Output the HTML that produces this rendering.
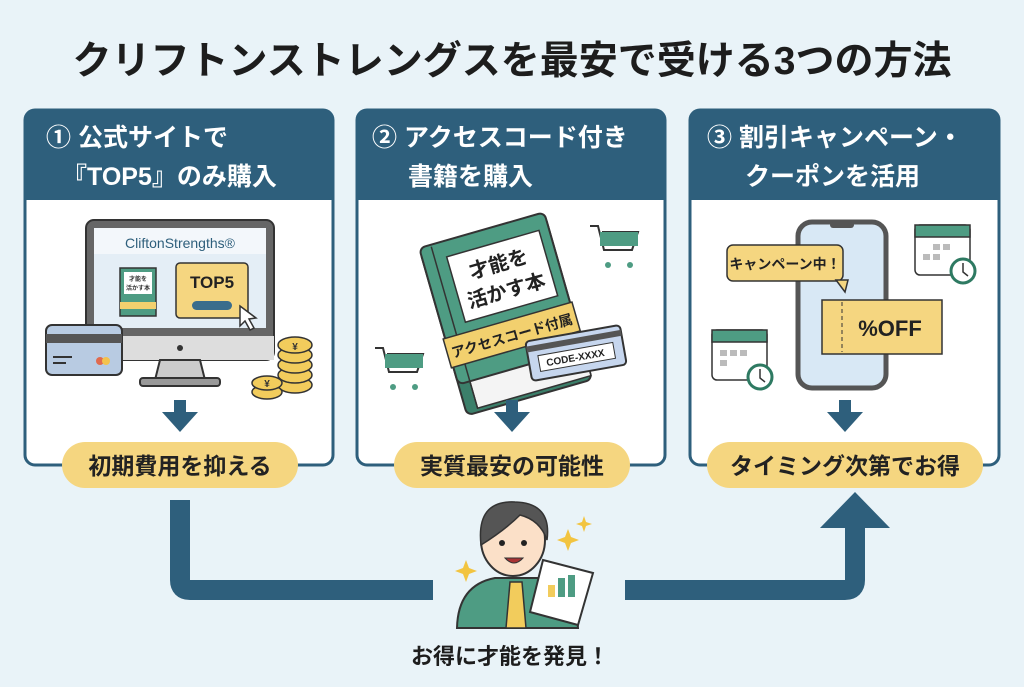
<!DOCTYPE html>
<html><head><meta charset="utf-8"><style>
html,body{margin:0;padding:0;background:#e9f3f8;}
svg{display:block}
text{font-family:"Liberation Sans","Noto Sans CJK JP",sans-serif;font-weight:bold}
</style></head><body>
<svg width="1024" height="687" viewBox="0 0 1024 687" xmlns="http://www.w3.org/2000/svg">
<rect width="1024" height="687" fill="#e9f3f8"/>
<text x="512" y="74" text-anchor="middle" font-size="39" fill="#1d1d1d">クリフトンストレングスを最安で受ける3つの方法</text>

<!-- connector -->
<path d="M180 500 V580 Q180 590 190 590 H433" fill="none" stroke="#2e5f7c" stroke-width="20"/>
<path d="M625 590 H845 Q855 590 855 580 V525" fill="none" stroke="#2e5f7c" stroke-width="20"/>
<polygon points="820,528 890,528 855,492" fill="#2e5f7c"/>

<!-- panels -->
<g>
<rect x="25" y="110" width="308" height="355" rx="10" fill="#fff" stroke="#2e5f7c" stroke-width="3"/>
<path d="M25 120 Q25 110 35 110 H323 Q333 110 333 120 V200 H25Z" fill="#2e5f7c"/>
<text x="46" y="146" font-size="25" fill="#fff">① 公式サイトで</text>
<text x="62" y="185" font-size="25" fill="#fff">『TOP5』のみ購入</text>
<rect x="357" y="110" width="308" height="355" rx="10" fill="#fff" stroke="#2e5f7c" stroke-width="3"/>
<path d="M357 120 Q357 110 367 110 H655 Q665 110 665 120 V200 H357Z" fill="#2e5f7c"/>
<text x="372" y="146" font-size="25" fill="#fff">② アクセスコード付き</text>
<text x="408" y="185" font-size="25" fill="#fff">書籍を購入</text>
<rect x="690" y="110" width="309" height="355" rx="10" fill="#fff" stroke="#2e5f7c" stroke-width="3"/>
<path d="M690 120 Q690 110 700 110 H989 Q999 110 999 120 V200 H690Z" fill="#2e5f7c"/>
<text x="707" y="146" font-size="25" fill="#fff">③ 割引キャンペーン・</text>
<text x="745" y="185" font-size="25" fill="#fff">クーポンを活用</text>
</g>

<!-- panel1 illustration -->
<rect x="86" y="220" width="188" height="140" rx="8" fill="#666" stroke="#333" stroke-width="2"/>
<rect x="94" y="228" width="172" height="100" fill="#e4eef6"/>
<rect x="94" y="228" width="172" height="26" fill="#f3f7fb"/>
<text x="180" y="248" text-anchor="middle" font-size="14" fill="#2e5f7c" style="font-weight:normal">CliftonStrengths®</text>
<rect x="86" y="336" width="188" height="24" fill="#ddd"/>
<circle cx="180" cy="348" r="3" fill="#333"/>
<polygon points="160,360 200,360 205,380 155,380" fill="#ccc" stroke="#333" stroke-width="2"/>
<rect x="140" y="378" width="80" height="8" rx="3" fill="#999" stroke="#333" stroke-width="2"/>
<rect x="120" y="268" width="36" height="48" fill="#4e9c83" stroke="#333" stroke-width="1.5"/>
<rect x="120" y="302" width="36" height="7" fill="#f2d06e"/>
<rect x="124" y="272" width="28" height="22" fill="#fff"/>
<text x="138" y="281" text-anchor="middle" font-size="6" fill="#333">才能を</text>
<text x="138" y="290" text-anchor="middle" font-size="6" fill="#333">活かす本</text>
<rect x="176" y="263" width="72" height="55" rx="4" fill="#f5d680" stroke="#333" stroke-width="1.5"/>
<text x="212" y="288" text-anchor="middle" font-size="17" fill="#222">TOP5</text>
<rect x="192" y="301" width="40" height="9" rx="4.5" fill="#3a6d8c"/>
<polygon points="240,306 240,326 245,321 250,330 254,328 249,319 256,318" fill="#fff" stroke="#333" stroke-width="1.5"/>
<rect x="46" y="325" width="76" height="50" rx="6" fill="#b8cbe2" stroke="#333" stroke-width="2"/>
<rect x="46" y="334" width="76" height="9" fill="#555"/>
<circle cx="100" cy="361" r="4" fill="#e06a4e"/><circle cx="106" cy="361" r="4" fill="#f3c24d"/>
<line x1="53" y1="357" x2="72" y2="357" stroke="#333" stroke-width="2"/><line x1="53" y1="363" x2="66" y2="363" stroke="#333" stroke-width="2"/>
<g fill="#f2cc5c" stroke="#333" stroke-width="1.5">
<ellipse cx="295" cy="385" rx="17" ry="8"/><ellipse cx="295" cy="375" rx="17" ry="8"/><ellipse cx="295" cy="365" rx="17" ry="8"/><ellipse cx="295" cy="355" rx="17" ry="8"/><ellipse cx="295" cy="345" rx="17" ry="8"/>
<ellipse cx="267" cy="392" rx="15" ry="7"/><ellipse cx="267" cy="383" rx="15" ry="7"/>
</g>
<text x="295" y="350" text-anchor="middle" font-size="10" fill="#333">¥</text>
<text x="267" y="387" text-anchor="middle" font-size="10" fill="#333">¥</text>

<!-- panel2 book -->
<g transform="rotate(-16 500 305)">
<rect x="438" y="232" width="130" height="170" rx="6" fill="#3b7f6a" stroke="#333" stroke-width="2"/>
<rect x="450" y="368" width="118" height="30" fill="#f4f4f4" stroke="#333" stroke-width="1.5"/>
<rect x="438" y="228" width="130" height="142" rx="6" fill="#4e9c83" stroke="#333" stroke-width="2"/>
<line x1="450" y1="230" x2="450" y2="398" stroke="#333" stroke-width="1.5"/>
<rect x="462" y="244" width="96" height="68" fill="#fff" stroke="#333" stroke-width="1.5"/>
<text x="510" y="272" text-anchor="middle" font-size="20" fill="#222">才能を</text>
<text x="510" y="300" text-anchor="middle" font-size="20" fill="#222">活かす本</text>
<rect x="436" y="322" width="134" height="30" fill="#f2d06e" stroke="#333" stroke-width="1.5"/>
<text x="503" y="343" text-anchor="middle" font-size="14" fill="#222">アクセスコード付属</text>
</g>
<rect x="528" y="333" width="96" height="40" rx="4" fill="#c6d6ee" stroke="#333" stroke-width="2" transform="rotate(-10 576 353)"/>
<rect x="528" y="338" width="96" height="6" fill="#555" transform="rotate(-10 576 353)"/>
<rect x="538" y="349" width="76" height="16" fill="#fff" stroke="#333" transform="rotate(-10 576 353)"/>
<text x="576" y="361" text-anchor="middle" font-size="10" fill="#222" transform="rotate(-10 576 361)">CODE-XXXX</text>
<path d="M590 226 h8 l6 24 h28 l6 -18 h-36" fill="none" stroke="#333" stroke-width="2"/>
<rect x="600" y="232" width="38" height="14" fill="#4e9c83"/>
<circle cx="608" cy="265" r="3" fill="#4e9c83"/><circle cx="630" cy="265" r="3" fill="#4e9c83"/>
<path d="M375 348 h8 l6 24 h28 l6 -18 h-36" fill="none" stroke="#333" stroke-width="2"/>
<rect x="385" y="354" width="38" height="14" fill="#4e9c83"/>
<circle cx="393" cy="387" r="3" fill="#4e9c83"/><circle cx="415" cy="387" r="3" fill="#4e9c83"/>

<!-- panel3 illustration -->
<rect x="798" y="222" width="88" height="166" rx="14" fill="#d8e8f5" stroke="#555" stroke-width="5"/>
<rect x="830" y="222" width="24" height="6" rx="3" fill="#555"/>
<rect x="727" y="245" width="116" height="36" rx="6" fill="#f5d680" stroke="#333" stroke-width="1.5"/>
<polygon points="836,280 848,280 845,292" fill="#f5d680" stroke="#333" stroke-width="1.5"/>
<text x="785" y="269" text-anchor="middle" font-size="14" fill="#222">キャンペーン中！</text>
<rect x="822" y="300" width="120" height="54" fill="#f5d680" stroke="#333" stroke-width="1.5"/>
<line x1="842" y1="302" x2="842" y2="352" stroke="#333" stroke-dasharray="4 3"/>
<text x="890" y="336" text-anchor="middle" font-size="22" fill="#222">%OFF</text>
<g stroke="#333" stroke-width="1.5">
<rect x="915" y="225" width="55" height="50" rx="5" fill="#fff"/><rect x="915" y="225" width="55" height="12" fill="#4e9c83"/>
<circle cx="963" cy="271" r="12" fill="#fff" stroke="#2e7a62" stroke-width="3"/>
<rect x="712" y="330" width="55" height="50" rx="5" fill="#fff"/><rect x="712" y="330" width="55" height="12" fill="#4e9c83"/>
<circle cx="760" cy="377" r="12" fill="#fff" stroke="#2e7a62" stroke-width="3"/>
</g>
<path d="M963 263 V272 L968 276 M760 369 V378 L765 382" fill="none" stroke="#333" stroke-width="1.5"/>
<g fill="#bbb"><rect x="933" y="244" width="7" height="6"/><rect x="943" y="244" width="7" height="6"/><rect x="923" y="254" width="7" height="6"/><rect x="933" y="254" width="7" height="6"/><rect x="720" y="350" width="7" height="6"/><rect x="730" y="350" width="7" height="6"/><rect x="740" y="350" width="7" height="6"/><rect x="720" y="360" width="7" height="6"/></g>

<!-- down arrows -->
<g fill="#2e5f7c">
<rect x="174" y="400" width="12" height="14"/><polygon points="162,412 198,412 180,432"/>
<rect x="506" y="400" width="12" height="14"/><polygon points="494,412 530,412 512,432"/>
<rect x="839" y="400" width="12" height="14"/><polygon points="827,412 863,412 845,432"/>
</g>

<!-- pills -->
<rect x="62" y="442" width="236" height="46" rx="23" fill="#f5d680"/>
<text x="180" y="474" text-anchor="middle" font-size="23" fill="#222">初期費用を抑える</text>
<rect x="394" y="442" width="236" height="46" rx="23" fill="#f5d680"/>
<text x="512" y="474" text-anchor="middle" font-size="23" fill="#222">実質最安の可能性</text>
<rect x="707" y="442" width="276" height="46" rx="23" fill="#f5d680"/>
<text x="845" y="474" text-anchor="middle" font-size="23" fill="#222">タイミング次第でお得</text>

<!-- person -->
<path d="M457 628 Q458 585 495 578 H540 Q575 585 578 628Z" fill="#4e9c83" stroke="#333" stroke-width="2"/>
<polygon points="510,582 522,582 526,628 506,628" fill="#f2cc5c" stroke="#333" stroke-width="1.5"/>
<ellipse cx="513" cy="540" rx="32" ry="36" fill="#fbe0c8" stroke="#333" stroke-width="2"/>
<path d="M481 545 Q476 500 515 502 Q552 503 547 540 Q540 520 520 515 Q505 530 481 545Z" fill="#555" stroke="#333" stroke-width="1.5"/>
<circle cx="502" cy="543" r="3" fill="#222"/><circle cx="524" cy="543" r="3" fill="#222"/>
<path d="M505 558 Q514 568 523 558Z" fill="#a33" stroke="#333"/>
<polygon points="543,560 593,573 578,625 530,612" fill="#fff" stroke="#333" stroke-width="2"/>
<rect x="548" y="585" width="7" height="12" fill="#f2cc5c"/><rect x="558" y="578" width="7" height="19" fill="#4e9c83"/><rect x="568" y="575" width="7" height="22" fill="#4e9c83"/>
<g fill="#f2c440"><path d="M463 568 l3 -8 l3 8 l8 3 l-8 3 l-3 8 l-3 -8 l-8 -3z"/><path d="M565 537 l3 -8 l3 8 l8 3 l-8 3 l-3 8 l-3 -8 l-8 -3z"/><path d="M582 522 l2 -6 l2 6 l6 2 l-6 2 l-2 6 l-2 -6 l-6 -2z"/></g>
<text x="510" y="664" text-anchor="middle" font-size="22" fill="#1d1d1d">お得に才能を発見！</text>
</svg>
</body></html>
